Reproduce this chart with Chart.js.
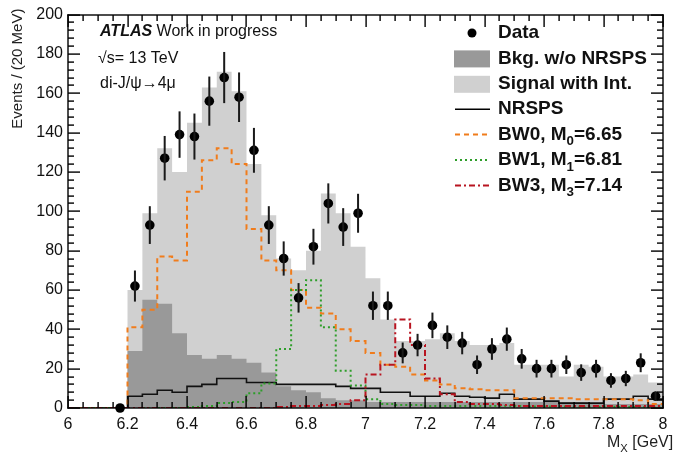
<!DOCTYPE html>
<html>
<head>
<meta charset="utf-8">
<script src="https://cdn.jsdelivr.net/npm/chart.js@4.4.1/dist/chart.umd.min.js"></script>
<style>
  html, body { margin: 0; padding: 0; background: #fff; }
  #wrap { width: 679px; height: 455px; }
</style>
</head>
<body>
<div id="wrap"><canvas id="chart" width="679" height="455"></canvas></div>
<script>
// histogram bin edges, M_X in GeV (50 MeV bins)
const binEdges = [6.00, 6.05, 6.10, 6.15, 6.20, 6.25, 6.30, 6.35, 6.40, 6.45,
                  6.50, 6.55, 6.60, 6.65, 6.70, 6.75, 6.80, 6.85, 6.90, 6.95,
                  7.00, 7.05, 7.10, 7.15, 7.20, 7.25, 7.30, 7.35, 7.40, 7.45,
                  7.50, 7.55, 7.60, 7.65, 7.70, 7.75, 7.80, 7.85, 7.90, 7.95, 8.00];

// one value per bin
const bkgNoNrsps = [0, 0, 0, 0, 29, 55, 53, 38, 27, 25,
                    27, 25, 23, 18, 11, 9, 8, 5, 4, 4,
                    3, 3, 3, 3, 3, 3, 3, 3, 3, 3,
                    3, 3, 3, 3, 3, 2, 2, 2, 2, 2];
const signalInt = [0, 0, 0, 0, 31, 44, 79, 82, 118, 138,
                   144, 136, 101, 80, 65, 61, 72, 104, 95, 78,
                   63, 42, 31, 31, 32, 35, 31, 29, 29, 30,
                   19, 19, 19, 13, 19, 19, 14, 14, 15, 11];
const nrsps = [0, 0, 0, 0, 6, 7, 9, 8, 11, 12,
               15, 15, 13, 13, 12, 12, 12, 12, 11, 10,
               10, 8, 8, 6, 6, 7.5, 6, 5.5, 5, 7,
               4.5, 4.5, 3.5, 2.5, 2.5, 2.5, 4.5, 4.5, 6, 4.5];
const bw0 = [0, 0, 0, 0, 41, 50, 77, 75, 110, 126,
             132, 124, 91, 75, 70, 60, 51, 48, 40, 34,
             28, 22, 21, 17, 14, 12, 10, 9.5, 9, 9,
             5, 5, 5, 5, 4.5, 4.5, 4.5, 4.5, 4, 2];
const bw1 = [0, 0, 0, 0, 0, 0, 0, 0, 0.5, 1,
             2.5, 3, 7.5, 12.5, 30, 60, 65, 41, 19, 11.5,
             4.5, 2, 1.5, 1.5, 1, 1, 1, 1, 1, 1,
             1, 0.8, 0.8, 0.8, 0.6, 0.6, 0.6, 0.5, 0.5, 0.5];
const bw3 = [0, 0, 0, 0, 0, 0, 0, 0, 0, 0,
             0, 0, 0, 0, 0.5, 1, 1, 1.5, 2, 4,
             17, 22, 45, 32, 15, 7, 3, 2, 2, 1.5,
             1, 1, 1, 1, 1, 1, 1, 1, 1, 1];

// data points (bin centres)
const dataX = [6.175, 6.225, 6.275, 6.325, 6.375, 6.425, 6.475, 6.525, 6.575, 6.625,
               6.675, 6.725, 6.775, 6.825, 6.875, 6.925, 6.975, 7.025, 7.075, 7.125,
               7.175, 7.225, 7.275, 7.325, 7.375, 7.425, 7.475, 7.525, 7.575, 7.625,
               7.675, 7.725, 7.775, 7.825, 7.875, 7.925, 7.975];
const dataY = [0, 62, 93, 127, 139, 138, 156, 168, 158, 131,
               93, 76, 56, 82, 104, 92, 99, 52, 52, 28,
               32, 42, 36, 33, 22, 30, 35, 25, 20, 20,
               22, 18, 20, 14, 15, 23, 6];
const dataErr = [0, 7.9, 9.6, 11.3, 11.8, 11.7, 12.5, 13.0, 12.6, 11.4,
                 9.6, 8.7, 7.5, 9.1, 10.2, 9.6, 9.9, 7.2, 7.2, 5.3,
                 5.7, 6.5, 6.0, 5.7, 4.7, 5.5, 5.9, 5.0, 4.5, 4.5,
                 4.7, 4.2, 4.5, 3.7, 3.9, 4.8, 2.4];

const FONT = '"Liberation Sans", Arial, Helvetica, sans-serif';
const ORANGE = '#f07c1c';
const GREEN = '#2e9e2a';
const RED = '#b81420';
const DARK = '#999999';
const LIGHT = '#d0d0d0';

function histPoints(vals) {
  return binEdges.map((e, i) => ({ x: e, y: vals[Math.min(i, vals.length - 1)] }));
}

const stackTop = bkgNoNrsps.map((b, i) => b + signalInt[i]);

function histLine(label, vals, color, dash, order) {
  return {
    label: label,
    data: histPoints(vals),
    stepped: true,
    borderColor: color,
    borderWidth: 2,
    borderDash: dash,
    pointRadius: 0,
    fill: false,
    order: order
  };
}

// draws text pieces, subscripts lowered and smaller
function drawRich(ctx, parts, x, y, size, weight) {
  let cx = x;
  parts.forEach(p => {
    const s = p.sub ? size * 0.7 : size;
    ctx.font = weight + ' ' + s + 'px ' + FONT;
    ctx.fillText(p.t, cx, p.sub ? y + size * 0.38 : y);
    cx += ctx.measureText(p.t).width;
  });
}

// error bars, then the ROOT style frame with inward ticks
const overlay = {
  id: 'rootOverlay',
  afterDatasetsDraw(chart) {
    const ctx = chart.ctx;
    const xs = chart.scales.x, ys = chart.scales.y;
    ctx.save();
    ctx.fillStyle = '#1a1a1a';
    dataX.forEach((xv, i) => {
      if (!dataErr[i]) return;
      const px = xs.getPixelForValue(xv);
      const top = ys.getPixelForValue(dataY[i] + dataErr[i]);
      const bot = ys.getPixelForValue(dataY[i] - dataErr[i]);
      ctx.fillRect(px - 1, top, 2, bot - top);
    });

    // frame edges taken from the scales themselves
    const L = Math.round(xs.getPixelForValue(6));
    const R = Math.round(xs.getPixelForValue(8));
    const T = Math.round(ys.getPixelForValue(200));
    const B = Math.round(ys.getPixelForValue(0));
    ctx.fillStyle = '#000';
    for (let k = 0; k <= 40; k++) {
      const px = Math.round(xs.getPixelForValue(6 + k * 0.05));
      const len = k % 4 === 0 ? 12 : 6;
      ctx.fillRect(px - 0.6, B - len, 1.4, len);
      ctx.fillRect(px - 0.6, T, 1.4, len);
    }
    for (let k = 0; k <= 50; k++) {
      const py = Math.round(ys.getPixelForValue(k * 4));
      const len = k % 5 === 0 ? 12 : 6;
      ctx.fillRect(L, py - 0.6, len, 1.4);
      ctx.fillRect(R - len, py - 0.6, len, 1.4);
    }
    ctx.fillRect(L - 0.7, T - 0.7, R - L + 1.4, 1.4);
    ctx.fillRect(L - 0.7, B - 0.7, R - L + 1.4, 1.4);
    ctx.fillRect(L - 0.7, T - 0.7, 1.4, B - T + 1.4);
    ctx.fillRect(R - 0.7, T - 0.7, 1.4, B - T + 1.4);
    ctx.restore();
  }
};

// legend, labels and annotation
const decorations = {
  id: 'decorations',
  afterDraw(chart) {
    const ctx = chart.ctx;
    const top = chart.scales.y.getPixelForValue(200);
    ctx.save();
    ctx.setLineDash([]);
    ctx.fillStyle = '#222';
    ctx.textBaseline = 'middle';
    ctx.save();
    ctx.translate(18, top - 6);
    ctx.rotate(-Math.PI / 2);
    ctx.textAlign = 'right';
    ctx.font = '15px ' + FONT;
    ctx.fillText('Events / (20 MeV)', 0, 0);
    ctx.restore();
    ctx.textAlign = 'left';
    drawRich(ctx, [{ t: 'M' }, { t: 'X', sub: true }, { t: ' [GeV]' }], 607, 443, 16, 'normal');

    ctx.fillStyle = '#111';
    ctx.font = 'italic bold 16px ' + FONT;
    ctx.fillText('ATLAS', 100, 32);
    const w = ctx.measureText('ATLAS ').width;
    ctx.font = '16px ' + FONT;
    ctx.fillText('Work in progress', 100 + w, 32);
    ctx.fillText('\u221As= 13 TeV', 98, 59);
    ctx.fillText('di-J/\u03C8\u2192', 100, 84);
    const w2 = ctx.measureText('di-J/\u03C8\u2192').width;
    ctx.fillText('4\u03BC', 100 + w2, 84);

    const rows = [
      { kind: 'dot', parts: [{ t: 'Data' }] },
      { kind: 'box', color: DARK, parts: [{ t: 'Bkg. w/o NRSPS' }] },
      { kind: 'box', color: LIGHT, parts: [{ t: 'Signal with Int.' }] },
      { kind: 'line', color: '#000', dash: [], parts: [{ t: 'NRSPS' }] },
      { kind: 'line', color: ORANGE, dash: [5, 4], parts: [{ t: 'BW0, M' }, { t: '0', sub: true }, { t: '=6.65' }] },
      { kind: 'line', color: GREEN, dash: [2, 3], parts: [{ t: 'BW1, M' }, { t: '1', sub: true }, { t: '=6.81' }] },
      { kind: 'line', color: RED, dash: [6, 3, 2, 3], parts: [{ t: 'BW3, M' }, { t: '3', sub: true }, { t: '=7.14' }] }
    ];
    rows.forEach((r, i) => {
      const cy = 33 + i * 25.4;
      if (r.kind === 'dot') {
        ctx.fillStyle = '#000';
        ctx.beginPath();
        ctx.arc(472, cy, 4.5, 0, Math.PI * 2);
        ctx.fill();
      } else if (r.kind === 'box') {
        ctx.fillStyle = r.color;
        ctx.fillRect(454, cy - 8, 36, 17);
      } else {
        ctx.strokeStyle = r.color;
        ctx.lineWidth = r.color === '#000' ? 1.5 : 2;
        ctx.setLineDash(r.dash);
        ctx.beginPath();
        ctx.moveTo(455, cy);
        ctx.lineTo(490, cy);
        ctx.stroke();
        ctx.setLineDash([]);
      }
      ctx.fillStyle = '#111';
      drawRich(ctx, r.parts, 498, cy, 19, 'bold');
    });
    ctx.restore();
  }
};

new Chart(document.getElementById('chart'), {
  type: 'line',
  data: {
    datasets: [
      {
        label: 'Data',
        data: dataX.map((xv, i) => ({ x: xv, y: dataY[i] })),
        showLine: false,
        pointRadius: 4.8,
        pointBackgroundColor: '#000',
        pointBorderColor: '#000',
        pointBorderWidth: 0,
        clip: 8,
        order: 0
      },
      histLine('BW3, M3=7.14', bw3, RED, [6, 3, 2, 3], 1),
      histLine('BW1, M1=6.81', bw1, GREEN, [2, 3], 2),
      histLine('BW0, M0=6.65', bw0, ORANGE, [5, 4], 3),
      Object.assign(histLine('NRSPS', nrsps, '#111', [], 4), { borderWidth: 1.6 }),
      {
        label: 'Bkg. w/o NRSPS',
        data: histPoints(bkgNoNrsps),
        stepped: true,
        borderWidth: 0,
        borderColor: 'rgba(0,0,0,0)',
        backgroundColor: DARK,
        fill: 'origin',
        pointRadius: 0,
        order: 5
      },
      {
        label: 'Signal with Int.',
        data: histPoints(stackTop),
        stepped: true,
        borderWidth: 0,
        borderColor: 'rgba(0,0,0,0)',
        backgroundColor: LIGHT,
        fill: 'origin',
        pointRadius: 0,
        order: 6
      }
    ]
  },
  options: {
    responsive: false,
    animation: false,
    layout: { padding: { top: 14, right: 16, left: 0, bottom: 0 } },
    plugins: {
      legend: { display: false },
      tooltip: { enabled: false }
    },
    scales: {
      x: {
        type: 'linear',
        min: 6,
        max: 8,
        grid: { display: false, drawTicks: false },
        border: { display: false },
        ticks: {
          stepSize: 0.2,
          padding: 7,
          color: '#111',
          font: { family: FONT, size: 16 },
          maxRotation: 0,
          callback: v => String(Math.round(v * 10) / 10)
        },
        afterFit: s => { s.height = 47; }
      },
      y: {
        min: 0,
        max: 200,
        grid: { display: false, drawTicks: false },
        border: { display: false },
        ticks: {
          stepSize: 20,
          padding: 5,
          color: '#111',
          font: { family: FONT, size: 16 }
        },
        afterFit: s => { s.width = 68; }
      }
    }
  },
  plugins: [overlay, decorations]
});
</script>
</body>
</html>
